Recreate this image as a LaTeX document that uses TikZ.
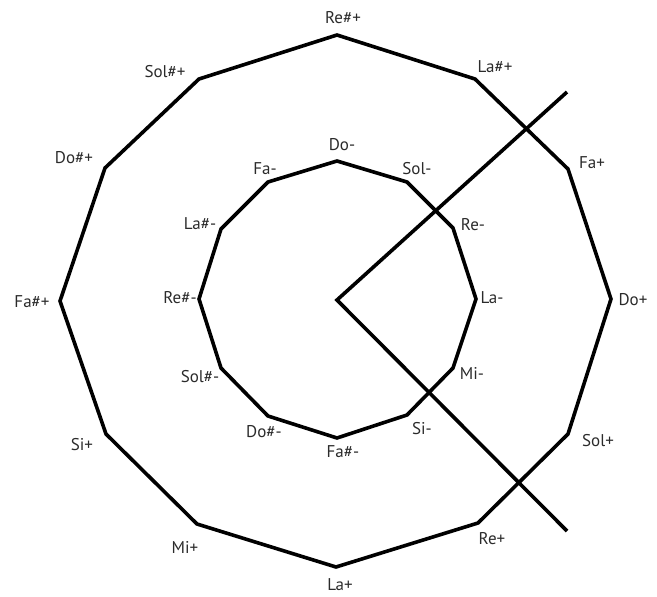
\documentclass[tikz,border=0pt]{standalone}
\usepackage{fontspec}
\setmainfont{PT Sans}
\usetikzlibrary{calc}
\definecolor{ink}{HTML}{2B2B2B}

\begin{document}
\begin{tikzpicture}[x=1pt, y=-1pt,
    ring/.style={line width=3.6pt, line join=miter, black},
    ray/.style={line width=3.6pt, black},
    note/.style={font=\fontsize{17}{19}\selectfont, text=ink, inner sep=0pt}]
  \useasboundingbox (0,0) rectangle (657,597);
  % outer ring (major keys)
  \foreach \n/\x/\y in {1/337/35, 2/475/79, 3/568/169, 4/611/299, 5/568/434, 6/478/523,
                        7/336/567, 8/197/524, 9/106/434, 10/60/301, 11/105/168, 12/199/79}
    \coordinate (o\n) at (\x,\y);
  \draw[ring] (o1) \foreach \n in {2,...,12} {-- (o\n)} -- cycle;
  \foreach \n/\x/\y/\t in {1/343/18/Re\#+, 2/495/67/La\#+, 3/592/163/Fa+, 4/633/300/Do+,
                           5/598/441/Sol+, 6/492/539/Re+, 7/340/585/La+, 8/185/547/Mi+,
                           9/82/445/Si+, 10/32/302/Fa\#+, 11/74/158/Do\#+, 12/165/72/Sol\#+}
    \node[note] (lo\n) at (\x,\y) {\t};
  % inner ring (minor keys)
  \foreach \n/\x/\y in {1/337/161, 2/407/182, 3/453/228, 4/476/299, 5/453/368, 6/407/415,
                        7/337/438, 8/268/416, 9/221/368, 10/199/299, 11/221/229, 12/268/182}
    \coordinate (i\n) at (\x,\y);
  \draw[ring] (i1) \foreach \n in {2,...,12} {-- (i\n)} -- cycle;
  \foreach \n/\x/\y/\t in {1/342/145/Do-, 2/417/169/Sol-, 3/473/225/Re-, 4/492/298/La-,
                           5/472/373/Mi-, 6/422/429/Si-, 7/343/452/Fa\#-, 8/264/432/Do\#-,
                           9/200/377/Sol\#-, 10/180/298/Re\#-, 11/200/224/La\#-, 12/265/169/Fa-}
    \node[note] (li\n) at (\x,\y) {\t};
  % the two rays from the centre
  \coordinate (centre) at (337,300);
  \coordinate (upper) at (567,92);
  \coordinate (lower) at (567,531);
  \draw[ray] (upper) -- (centre) -- (lower);
\end{tikzpicture}
\end{document}
